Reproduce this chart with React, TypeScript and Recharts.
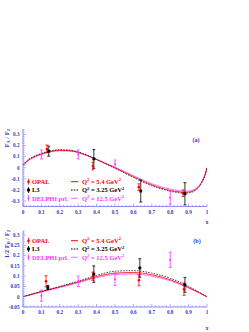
import React from "react";
import { ComposedChart, Line, Scatter, ErrorBar, XAxis, YAxis } from "recharts";

const FRAME = "#8c8cf0";
const INK = "#3434c8";
const FONT = "'Liberation Serif', 'Times New Roman', serif";
const RED = "#ff0000";
const MAG = "#ff33ff";
const MAG_LINE = "#ff6cff";

// theory curves, panel (a)
const curveXA = [0, 0.01, 0.03, 0.05, 0.1, 0.15, 0.2, 0.25, 0.3, 0.35, 0.4, 0.45, 0.5, 0.55, 0.6, 0.65, 0.7, 0.75, 0.8, 0.85, 0.88, 0.9, 0.93, 0.95, 0.97, 0.99, 1];
const faQ54 = [0.02, 0.04, 0.07, 0.09, 0.125, 0.148, 0.158, 0.155, 0.14, 0.11, 0.075, 0.037, 0.0, -0.04, -0.08, -0.12, -0.155, -0.183, -0.205, -0.218, -0.222, -0.22, -0.205, -0.18, -0.135, -0.06, 0.0];
const faQ325 = [0.02, 0.045, 0.075, 0.095, 0.13, 0.153, 0.163, 0.16, 0.143, 0.112, 0.075, 0.035, -0.005, -0.047, -0.088, -0.128, -0.163, -0.19, -0.212, -0.226, -0.23, -0.228, -0.212, -0.188, -0.14, -0.065, 0.0];
const faQ125 = [0.015, 0.035, 0.065, 0.085, 0.12, 0.143, 0.153, 0.151, 0.137, 0.108, 0.075, 0.04, 0.005, -0.033, -0.072, -0.11, -0.145, -0.172, -0.193, -0.207, -0.212, -0.21, -0.197, -0.173, -0.13, -0.058, 0.0];

// theory curves, panel (b)
const curveXB = [0, 0.1, 0.2, 0.3, 0.4, 0.5, 0.6, 0.7, 0.8, 0.9, 1];
const fbQ54 = [0, 0.025, 0.048, 0.072, 0.098, 0.115, 0.118, 0.107, 0.083, 0.045, 0];
const fbQ325 = [0, 0.026, 0.05, 0.076, 0.104, 0.124, 0.127, 0.115, 0.09, 0.05, 0];
const fbQ125 = [0, 0.023, 0.045, 0.068, 0.093, 0.108, 0.111, 0.1, 0.078, 0.042, 0];

// measurements
const opalXA = [0.13, 0.38, 0.63, 0.87];
const opalFA = [0.17, 0.015, -0.175, -0.23];
const opalFAErr = [0.035, 0.035, 0.03, 0.03];
const l3XA = [0.14, 0.385, 0.64, 0.88];
const l3FA = [0.15, 0.08, -0.21, -0.235];
const l3FAErr = [0.045, 0.085, 0.1, 0.1];
const delphiX = [0.1, 0.3, 0.5, 0.8];
const delphiFA = [0.12, 0.12, 0.035, -0.27];
const delphiFAErr = [0.04, 0.04, 0.035, 0.06];

const opalXB = [0.125, 0.38, 0.63, 0.875];
const opalFB = [0.075, 0.1, 0.08, 0.037];
const opalFBErr = [0.027, 0.02, 0.027, 0.03];
const l3XB = [0.135, 0.385, 0.635, 0.88];
const l3FB = [0.045, 0.11, 0.14, 0.058];
const l3FBErr = [0.01, 0.04, 0.045, 0.036];
const delphiFB = [0.005, 0.075, 0.085, 0.18];
const delphiFBErr = [0.027, 0.025, 0.03, 0.037];

// axis ticks
const xMajor = [0, 0.1, 0.2, 0.3, 0.4, 0.5, 0.6, 0.7, 0.8, 0.9, 1];
const xTop = [0.25, 0.5, 0.75];
const yMajorA = [-0.3, -0.2, -0.1, 0, 0.1, 0.2, 0.3];
const yMajorB = [-0.05, 0, 0.05, 0.1, 0.15, 0.2, 0.25, 0.3];

const experiments = ["OPAL", "L3", "DELPHI prl."];
const qValues = ["5.4", "3.25", "12.5"];

const curve = (xs: number[], ys: number[]) => xs.map((x, i) => ({ x, y: ys[i] }));
const pts = (xs: number[], ys: number[], es: number[]) => xs.map((x, i) => ({ x, y: ys[i], err: es[i] }));
const steps = (a: number, b: number, s: number) => {
  const out: number[] = [];
  for (let v = a; v <= b + 1e-9; v += s) out.push(Math.round(v * 1000) / 1000);
  return out;
};
const isMajor = (v: number, majors: number[]) => majors.some((m) => Math.abs(m - v) < 1e-6);
const fmt = (v: number) => (Math.abs(v) < 1e-9 ? "0" : String(Math.round(v * 100) / 100));

const xTick = (props: any) => {
  const { x, y, payload } = props;
  const major = isMajor(payload.value, xMajor);
  return (
    <g>
      <line x1={x} x2={x} y1={y} y2={y - (major ? 3 : 1.6)} stroke={FRAME} strokeWidth={0.7} />
      {major && (
        <text x={x} y={y + 7.2} textAnchor="middle" fontSize={5.2} fontWeight="bold" fontFamily={FONT} fill={INK}>
          {fmt(payload.value)}
        </text>
      )}
    </g>
  );
};

const topTick = (props: any) => {
  const { x, y } = props;
  return <line x1={x} x2={x} y1={y} y2={y + 3} stroke={FRAME} strokeWidth={0.7} />;
};

const yTick = (majors: number[]) => (props: any) => {
  const { x, y, payload } = props;
  const major = isMajor(payload.value, majors);
  return (
    <g>
      <line x1={x} x2={x + (major ? 3 : 1.6)} y1={y} y2={y} stroke={FRAME} strokeWidth={0.7} />
      {major && (
        <text x={x - 3.5} y={y + 1.8} textAnchor="end" fontSize={5.2} fontWeight="bold" fontFamily={FONT} fill={INK}>
          {fmt(payload.value)}
        </text>
      )}
    </g>
  );
};

const circleShape = (color: string, r: number) => (p: any) => <circle cx={p.cx} cy={p.cy} r={r} fill={color} />;
const squareShape = (p: any) => <rect x={p.cx - 1.4} y={p.cy - 1.4} width={2.8} height={2.8} fill="#000" />;

type PanelProps = {
  top: number;
  height: number;
  marginTop: number;
  marginBottom: number;
  yDomain: [number, number];
  yMajors: number[];
  yMinor: [number, number, number];
  lines: { data: { x: number; y: number }[]; color: string; dash?: string; width: number }[];
  sets: { data: { x: number; y: number; err: number }[]; color: string; shape: any }[];
};

function Panel(p: PanelProps) {
  const minor = steps(p.yMinor[0], p.yMinor[1], p.yMinor[2]);
  const yTicks = Array.from(new Set([...minor, ...p.yMajors])).sort((a, b) => a - b);
  const xTicks = steps(0, 1, 0.02);
  return (
    <div style={{ position: "absolute", left: 0, top: p.top }}>
      <ComposedChart width={249} height={p.height} margin={{ top: p.marginTop, right: 42, bottom: p.marginBottom, left: 0 }}>
        <XAxis
          dataKey="x"
          type="number"
          domain={[0, 1]}
          allowDataOverflow
          ticks={xTicks}
          interval={0}
          tickSize={0}
          tickMargin={0}
          height={16}
          tick={xTick}
          axisLine={{ stroke: FRAME, strokeWidth: 1 }}
        />
        <XAxis
          xAxisId="top"
          orientation="top"
          type="number"
          domain={[0, 1]}
          allowDataOverflow
          ticks={xTop}
          interval={0}
          tickSize={0}
          tickMargin={0}
          height={0}
          tick={topTick}
          axisLine={{ stroke: FRAME, strokeWidth: 1 }}
        />
        <YAxis
          type="number"
          domain={p.yDomain}
          allowDataOverflow
          ticks={yTicks}
          interval={0}
          tickSize={0}
          tickMargin={0}
          width={23}
          tick={yTick(p.yMajors)}
          axisLine={{ stroke: FRAME, strokeWidth: 1 }}
        />
        <YAxis
          yAxisId="right"
          orientation="right"
          type="number"
          domain={p.yDomain}
          allowDataOverflow
          width={0}
          tick={false}
          tickLine={false}
          axisLine={{ stroke: FRAME, strokeWidth: 1 }}
        />
        {p.lines.map((l, i) => (
          <Line
            key={"l" + i}
            data={l.data}
            dataKey="y"
            type="monotone"
            stroke={l.color}
            strokeWidth={l.width}
            strokeDasharray={l.dash}
            dot={false}
            isAnimationActive={false}
          />
        ))}
        {p.sets.map((s, i) => (
          <Scatter key={"s" + i} data={s.data} dataKey="y" fill={s.color} shape={s.shape} isAnimationActive={false}>
            <ErrorBar dataKey="err" direction="y" width={1.5} stroke={s.color} strokeWidth={0.8} isAnimationActive={false} />
          </Scatter>
        ))}
      </ComposedChart>
    </div>
  );
}

const txt = { fontFamily: FONT, fontWeight: "bold" as const };

function Legend({ y0 }: { y0: number }) {
  const colors = [RED, "#000", MAG];
  const lineColors = [RED, "#000", MAG_LINE];
  const dashes = [undefined, "1.6 1.2", undefined];
  return (
    <g>
      {experiments.map((name, i) => {
        const cy = y0 + i * 8.3;
        return (
          <g key={name}>
            <line x1={28.5} x2={28.5} y1={cy - 3} y2={cy + 3} stroke={colors[i]} strokeWidth={0.8} />
            {i === 1 ? (
              <rect x={27.1} y={cy - 1.4} width={2.8} height={2.8} fill="#000" />
            ) : (
              <circle cx={28.5} cy={cy} r={i === 0 ? 1.3 : 1} fill={colors[i]} />
            )}
            <text x={32} y={cy + 2.2} fontSize={6.5} fill={colors[i]} {...txt}>
              {name}
            </text>
            <line x1={71} x2={78} y1={cy} y2={cy} stroke={lineColors[i]} strokeWidth={1} strokeDasharray={dashes[i]} />
            <text x={82} y={cy + 2.2} fontSize={6.5} fill={colors[i]} {...txt}>
              Q<tspan dy={-2.5} fontSize={4.5}>2</tspan>
              <tspan dy={2.5}>{` = ${qValues[i]} GeV`}</tspan>
              <tspan dy={-2.5} fontSize={4.5}>2</tspan>
            </text>
          </g>
        );
      })}
    </g>
  );
}

export default function App() {
  const linesA = [
    { data: curve(curveXA, faQ125), color: MAG_LINE, width: 1 },
    { data: curve(curveXA, faQ54), color: RED, width: 0.8 },
    { data: curve(curveXA, faQ325), color: "#000", dash: "1.6 1.2", width: 0.7 },
  ];
  const linesB = [
    { data: curve(curveXB, fbQ125), color: MAG_LINE, width: 1 },
    { data: curve(curveXB, fbQ54), color: RED, width: 0.8 },
    { data: curve(curveXB, fbQ325), color: "#000", dash: "1.6 1.2", width: 0.7 },
  ];
  const setsA = [
    { data: pts(delphiX, delphiFA, delphiFAErr), color: MAG, shape: circleShape(MAG, 1) },
    { data: pts(opalXA, opalFA, opalFAErr), color: RED, shape: circleShape(RED, 1.3) },
    { data: pts(l3XA, l3FA, l3FAErr), color: "#000", shape: squareShape },
  ];
  const setsB = [
    { data: pts(delphiX, delphiFB, delphiFBErr), color: MAG, shape: circleShape(MAG, 1) },
    { data: pts(opalXB, opalFB, opalFBErr), color: RED, shape: circleShape(RED, 1.3) },
    { data: pts(l3XB, l3FB, l3FBErr), color: "#000", shape: squareShape },
  ];
  return (
    <div style={{ position: "absolute", left: 0, top: 0, width: 249, height: 332, background: "#fff" }}>
      <Panel
        top={0}
        height={230}
        marginTop={129}
        marginBottom={7.5}
        yDomain={[-0.35, 0.35]}
        yMajors={yMajorA}
        yMinor={[-0.34, 0.34, 0.02]}
        lines={linesA}
        sets={setsA}
      />
      <Panel
        top={220}
        height={112}
        marginTop={11}
        marginBottom={9}
        yDomain={[-0.05, 0.32]}
        yMajors={yMajorB}
        yMinor={[-0.05, 0.32, 0.01]}
        lines={linesB}
        sets={setsB}
      />
      <svg width={249} height={332} style={{ position: "absolute", left: 0, top: 0, pointerEvents: "none" }}>
        <Legend y0={181.7} />
        <Legend y0={240.7} />
        <text x={196} y={141.5} textAnchor="middle" fontSize={6} fill={INK} {...txt}>(a)</text>
        <text x={197} y={243.2} textAnchor="middle" fontSize={6} fill={INK} {...txt}>(b)</text>
        <text x={207} y={224} textAnchor="middle" fontSize={6} fill={INK} {...txt}>x</text>
        <text x={207} y={330} textAnchor="middle" fontSize={6} fill={INK} {...txt}>x</text>
        <text transform="translate(8.8,129) rotate(-90)" textAnchor="end" fontSize={6.5} fill={INK} {...txt}>
          F<tspan dy={1.5} fontSize={4.5}>A</tspan>
          <tspan dy={-1.5}> / F</tspan>
          <tspan dy={1.5} fontSize={4.5}>2</tspan>
        </text>
        <text transform="translate(8.8,230) rotate(-90)" textAnchor="end" fontSize={6.5} fill={INK} {...txt}>
          1/2 F<tspan dy={1.5} fontSize={4.5}>B</tspan>
          <tspan dy={-1.5}> / F</tspan>
          <tspan dy={1.5} fontSize={4.5}>2</tspan>
        </text>
      </svg>
    </div>
  );
}
